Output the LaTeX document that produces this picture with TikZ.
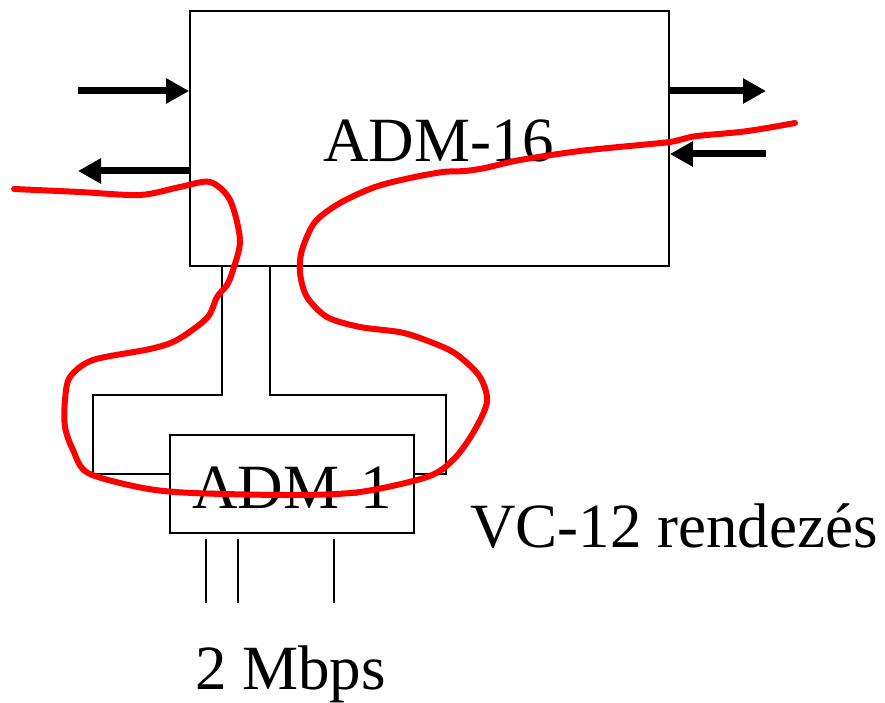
\documentclass[tikz,border=0pt]{standalone}
\usepackage{fontspec}
\setmainfont{Liberation Serif}
\usetikzlibrary{arrows.meta}
\begin{document}
\begin{tikzpicture}[x=1pt,y=-1pt,
  boxst/.style={draw,line width=1.8pt,inner sep=0pt,rectangle},
  wire/.style={line width=1.5pt},
  bigarrow/.style={line width=7pt,-{Triangle[length=23pt,width=24pt]}},
  lbl/.style={anchor=base west,inner sep=0pt,font=\fontsize{63}{70}\selectfont},
  redline/.style={red,line width=6pt,line join=round,line cap=round}]
\useasboundingbox (0,0) rectangle (885,703);
% boxes
\node[boxst,minimum width=479pt,minimum height=255pt] (adm16) at (429.5,138.5) {};
\node[boxst,minimum width=244pt,minimum height=98pt] (adm1) at (292,484) {};
\node[lbl] (t16) at (323,162) {ADM-16};
\node[lbl] (t1) at (192,508) {ADM-1};
\node[lbl] (tvc) at (470,547) {VC-12 rendezés};
\node[lbl] (tmb) at (195,689) {2 Mbps};
% arrows
\coordinate (inL) at (78,91);
\coordinate (outL) at (78,171);
\coordinate (outR) at (766,91);
\coordinate (inR) at (766,154);
\draw[bigarrow] (inL) -- (inL -| adm16.west);
\draw[bigarrow] (outL -| adm16.west) -- (outL);
\draw[bigarrow] (outR -| adm16.east) -- (outR);
\draw[bigarrow] (inR) -- (inR -| adm16.east);
% wiring
\draw[wire] (adm16.south -| 222,0) -- (222,395) -- (93,395) -- (93,474) -- (adm1.west |- 0,474);
\draw[wire] (adm16.south -| 270,0) -- (270,395) -- (446,395) -- (446,474) -- (adm1.east |- 0,474);
\foreach \xx in {206,238,334}{
  \draw[wire] (adm1.south -| \xx,0) ++(0,5) -- (\xx,603);
}
% red curve
\draw[redline] plot[smooth,tension=0.5] coordinates {
(14,189) (80,192) (140,195) (180,187) (210,182) (230,200) (240,240) (233,270)
(227,285) (217,297) (207,318) (177,340) (150,349) (93,360) (70,377) (65,400)
(65,427) (73,450) (88,473) (143,488) (193,493) (293,495) (360,492) (427,477)
(453,460) (473,433) (487,402) (480,377) (460,357) (443,347) (404,333)
(360,327) (327,317) (307,297) (300,273) (302,250) (315,222) (340,203) (375,187)
(410,178) (443,172) (465,171) (485,168) (520,160) (580,151) (640,145) (670,142)
(683,139) (697,136) (740,132) (767,128) (795,123)};
\end{tikzpicture}
\end{document}
